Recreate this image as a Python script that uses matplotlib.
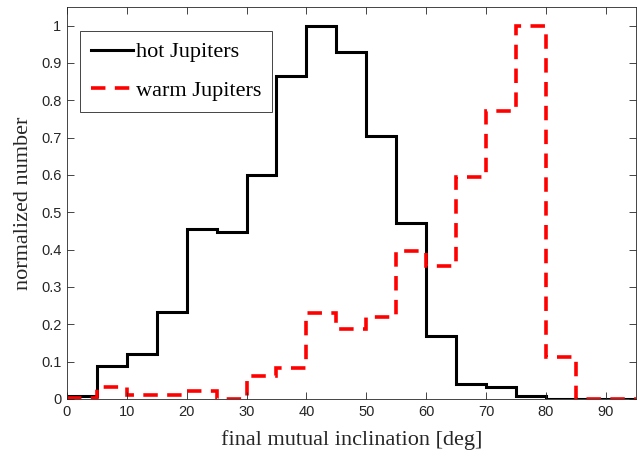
import numpy as np
import matplotlib
matplotlib.use("Agg")
import matplotlib.pyplot as plt

# ── Data (normalized histogram, 5 deg bins) ─────────────────────
edges = np.arange(0, 100, 5)
hot = [0.008, 0.088, 0.12, 0.232, 0.455, 0.448, 0.60, 0.865, 1.0, 0.928,
       0.705, 0.472, 0.168, 0.04, 0.032, 0.008, 0.0, 0.0, 0.0]
warm = [0.002, 0.032, 0.01, 0.01, 0.02, 0.0, 0.062, 0.082, 0.23, 0.188,
        0.22, 0.395, 0.355, 0.595, 0.77, 1.0, 0.113, 0.0, 0.0]
yticks = np.round(np.arange(0, 1.01, 0.1), 1)
ytick_labels = ["0"] + [f"{v:.1f}" for v in yticks[1:-1]] + ["1"]

AX_C = "#262626"

fig = plt.figure(figsize=(6.37, 4.57), dpi=100)
ax = fig.add_axes([0.105, 0.127, 0.893, 0.858])

ax.stairs(hot, edges, baseline=None, color="black", linewidth=2.2,
          label="hot Jupiters")
ax.stairs(warm, edges, baseline=None, color="red", linewidth=2.6,
          linestyle=(0, (4, 2.6)), label="warm Jupiters")

ax.set_xlim(0, 95)
ax.set_ylim(0, 1.05)
ax.set_xticks(np.arange(0, 95, 10))
ax.set_yticks(yticks)
ax.set_yticklabels(ytick_labels)
ax.tick_params(direction="in", top=True, right=True, length=5, width=0.6,
               colors=AX_C, labelsize=10.5, pad=4)
for lab in ax.get_xticklabels() + ax.get_yticklabels():
    lab.set_family("Liberation Sans")
for spine in ax.spines.values():
    spine.set_color(AX_C)
    spine.set_linewidth(0.6)

ax.set_xlabel("final mutual inclination [deg]", family="Liberation Serif",
              fontsize=16, color=AX_C, labelpad=8)
ax.set_ylabel("normalized number", family="Liberation Serif",
              fontsize=16, color=AX_C, labelpad=6)

leg = ax.legend(loc="upper left", bbox_to_anchor=(0.023, 0.939),
                borderaxespad=0,
                prop={"family": "Liberation Serif", "size": 16},
                fancybox=False, framealpha=1, edgecolor=AX_C,
                handlelength=1.9, handletextpad=0.1, borderpad=0.5,
                labelspacing=0.8)
leg.get_frame().set_linewidth(0.6)

fig.savefig("out.png", dpi=100)
